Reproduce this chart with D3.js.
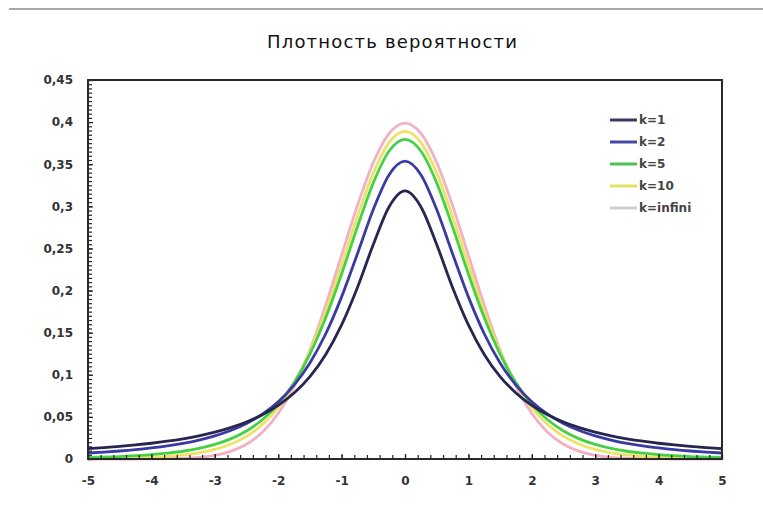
<!DOCTYPE html>
<html>
<head>
<meta charset="utf-8">
<script src="https://cdn.jsdelivr.net/npm/d3@7"></script>
<style>
  html, body { margin: 0; padding: 0; background: #fff; }
  svg { display: block; }
</style>
</head>
<body>
<svg id="chart" width="763" height="511"></svg>
<script>
const title = "Плотность вероятности";

const xs = [-5,-4.75,-4.5,-4.25,-4,-3.75,-3.5,-3.25,-3,-2.75,-2.5,-2.25,-2,-1.75,-1.5,-1.25,-1,-0.75,-0.5,-0.25,
  0,0.25,0.5,0.75,1,1.25,1.5,1.75,2,2.25,2.5,2.75,3,3.25,3.5,3.75,4,4.25,4.5,4.75,5];

const seriesNames = ["k=1", "k=2", "k=5", "k=10", "k=infini"];

const k1 = [0.0122,0.0135,0.0150,0.0167,0.0187,0.0211,0.0240,0.0275,0.0318,0.0372,0.0439,0.0525,0.0637,0.0784,0.0979,0.1242,0.1592,0.2037,0.2546,0.2996,
  0.3183,0.2996,0.2546,0.2037,0.1592,0.1242,0.0979,0.0784,0.0637,0.0525,0.0439,0.0372,0.0318,0.0275,0.0240,0.0211,0.0187,0.0167,0.0150,0.0135,0.0122];
const k2 = [0.0071,0.0082,0.0095,0.0111,0.0131,0.0155,0.0186,0.0225,0.0274,0.0338,0.0422,0.0533,0.0680,0.0878,0.1141,0.1487,0.1925,0.2438,0.2963,0.3376,
  0.3536,0.3376,0.2963,0.2438,0.1925,0.1487,0.1141,0.0878,0.0680,0.0533,0.0422,0.0338,0.0274,0.0225,0.0186,0.0155,0.0131,0.0111,0.0095,0.0082,0.0071];
const k5 = [0.0018,0.0023,0.0029,0.0039,0.0051,0.0069,0.0092,0.0126,0.0173,0.0239,0.0333,0.0466,0.0651,0.0905,0.1245,0.1679,0.2197,0.2757,0.3279,0.3657,
  0.3796,0.3657,0.3279,0.2757,0.2197,0.1679,0.1245,0.0905,0.0651,0.0466,0.0333,0.0239,0.0173,0.0126,0.0092,0.0069,0.0051,0.0039,0.0029,0.0023,0.0018];
const k10 = [0.0004,0.0006,0.0009,0.0013,0.0020,0.0031,0.0048,0.0074,0.0114,0.0176,0.0269,0.0409,0.0611,0.0895,0.1274,0.1751,0.2304,0.2880,0.3397,0.3760,
  0.3891,0.3760,0.3397,0.2880,0.2304,0.1751,0.1274,0.0895,0.0611,0.0409,0.0269,0.0176,0.0114,0.0074,0.0048,0.0031,0.0020,0.0013,0.0009,0.0006,0.0004];
const kInf = [0,0,0,0,0.0001,0.0004,0.0009,0.0020,0.0044,0.0091,0.0175,0.0317,0.0540,0.0863,0.1295,0.1826,0.2420,0.3011,0.3521,0.3867,
  0.3989,0.3867,0.3521,0.3011,0.2420,0.1826,0.1295,0.0863,0.0540,0.0317,0.0175,0.0091,0.0044,0.0020,0.0009,0.0004,0.0001,0,0,0,0];

const xTicks = [-5,-4,-3,-2,-1,0,1,2,3,4,5];
const xTickLabels = ["-5","-4","-3","-2","-1","0","1","2","3","4","5"];
const yTicks = [0,0.05,0.1,0.15,0.2,0.25,0.3,0.35,0.4,0.45];
const yTickLabels = ["0","0,05","0,1","0,15","0,2","0,25","0,3","0,35","0,4","0,45"];

const series = [
  {name: seriesNames[0], values: k1,   color: "#26264f"},
  {name: seriesNames[1], values: k2,   color: "#3a3aa2"},
  {name: seriesNames[2], values: k5,   color: "#46d046"},
  {name: seriesNames[3], values: k10,  color: "#ece266"},
  {name: seriesNames[4], values: kInf, color: "#f2b0c4"}
];
const legendColors = ["#3a3a60", "#4848a0", "#52c052", "#e4e064", "#d4ccd4"];

const svg = d3.select("#chart");
const L = 88, R = 722, T = 80, B = 459;

const x = d3.scaleLinear().domain([-5, 5]).range([L, R]);
const y = d3.scaleLinear().domain([0, 0.45]).range([B, T]);

// top rule
svg.append("line").attr("x1", 9).attr("x2", 763).attr("y1", 9).attr("y2", 9)
  .attr("stroke", "#a8a8a8").attr("stroke-width", 2);

// title
svg.append("text").attr("x", 392).attr("y", 48).attr("text-anchor", "middle")
  .attr("font-family", "DejaVu Sans, sans-serif").attr("font-size", 18)
  .attr("fill", "#111").attr("textLength", 250).attr("lengthAdjust", "spacing")
  .text(title);

// curves (drawn back-to-front)
const line = d3.line().x((d, i) => x(xs[i])).y(d => y(d)).curve(d3.curveMonotoneX);
const plot = svg.append("g");
series.slice().reverse().forEach(s => {
  plot.append("path").datum(s.values).attr("d", line)
    .attr("fill", "none").attr("stroke", s.color).attr("stroke-width", 2.8)
    .attr("stroke-linejoin", "round");
});

// minor y ticks
const yMinor = d3.range(0, 91).map(i => i * 0.005);
svg.append("g").attr("transform", `translate(${L},0)`)
  .call(d3.axisLeft(y).tickValues(yMinor).tickSize(-4).tickFormat(""))
  .call(g => g.select(".domain").remove())
  .call(g => g.selectAll("line").attr("stroke", "#222").attr("stroke-width", 1.2));

// major y axis labels
svg.append("g").attr("transform", `translate(${L},0)`)
  .call(d3.axisLeft(y).tickValues(yTicks).tickSize(-5).tickPadding(15)
    .tickFormat((d, i) => yTickLabels[i]))
  .call(g => g.select(".domain").remove())
  .call(g => g.selectAll("line").attr("stroke", "#222").attr("stroke-width", 1.2))
  .call(g => g.selectAll("text").attr("font-family", "DejaVu Sans, sans-serif")
    .attr("font-weight", "bold").attr("font-size", 12).attr("fill", "#333"));

// minor x ticks
const xMinor = d3.range(0, 51).map(i => -5 + i * 0.2);
svg.append("g").attr("transform", `translate(0,${B})`)
  .call(d3.axisBottom(x).tickValues(xMinor).tickSize(-4).tickFormat(""))
  .call(g => g.select(".domain").remove())
  .call(g => g.selectAll("line").attr("stroke", "#222").attr("stroke-width", 1.2));

// major x labels
svg.append("g").attr("transform", `translate(0,${B})`)
  .call(d3.axisBottom(x).tickValues(xTicks).tickSize(-5).tickPadding(17)
    .tickFormat((d, i) => xTickLabels[i]))
  .call(g => g.select(".domain").remove())
  .call(g => g.selectAll("line").attr("stroke", "#222").attr("stroke-width", 1.2))
  .call(g => g.selectAll("text").attr("font-family", "DejaVu Sans, sans-serif")
    .attr("font-weight", "bold").attr("font-size", 12).attr("fill", "#333"));

// frame
svg.append("rect").attr("x", L).attr("y", T).attr("width", R - L).attr("height", B - T)
  .attr("fill", "none").attr("stroke", "#2a2a2a").attr("stroke-width", 2);

// legend
const lg = svg.append("g");
series.forEach((s, i) => {
  const yy = 120 + i * 22;
  lg.append("line").attr("x1", 610).attr("x2", 637).attr("y1", yy).attr("y2", yy)
    .attr("stroke", legendColors[i]).attr("stroke-width", 3);
  lg.append("text").attr("x", 639).attr("y", yy).attr("dy", "0.35em")
    .attr("font-family", "DejaVu Sans, sans-serif").attr("font-weight", "bold")
    .attr("font-size", 12).attr("fill", "#444").text(s.name);
});
</script>
</body>
</html>
